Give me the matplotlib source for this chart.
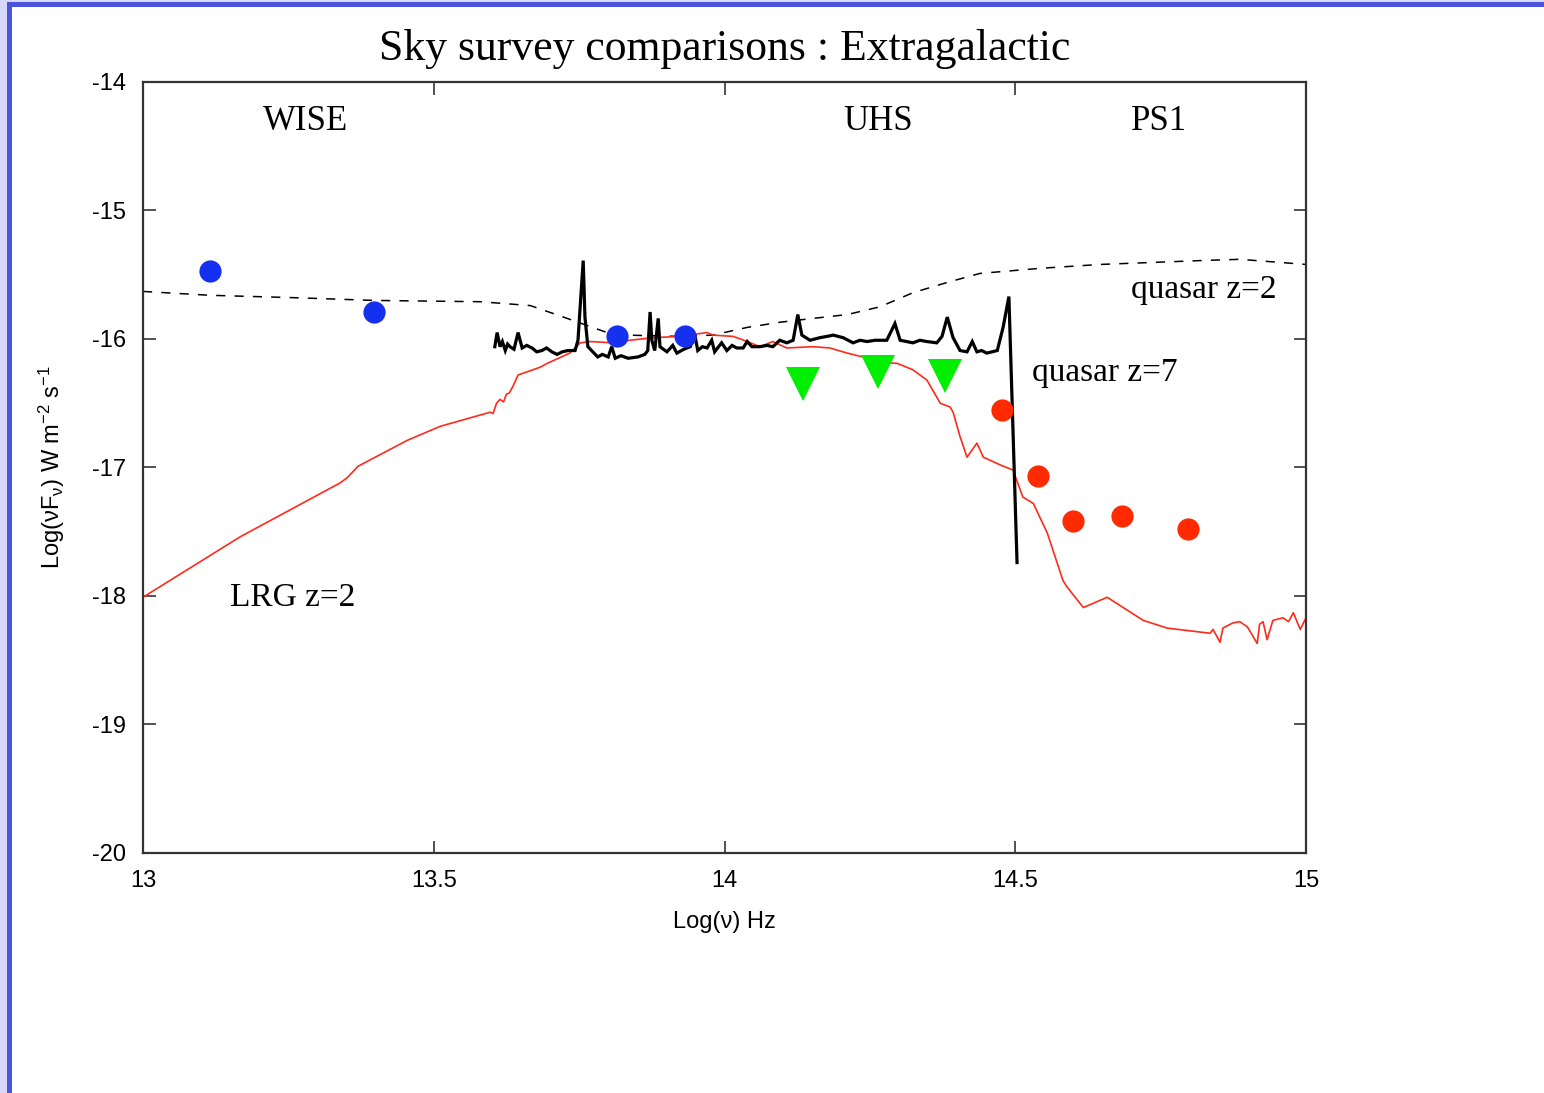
import matplotlib
matplotlib.use("Agg")
import matplotlib.pyplot as plt
from matplotlib.patches import Rectangle

plt.rcParams['font.family'] = ['Liberation Sans', 'DejaVu Sans']
plt.rcParams['mathtext.fontset'] = 'custom'
plt.rcParams['mathtext.rm'] = 'Liberation Sans'
plt.rcParams['mathtext.it'] = 'Liberation Sans:italic'
plt.rcParams['mathtext.default'] = 'regular'

# ---- photometric survey limits ----
wise_x = [13.115, 13.397, 13.815, 13.932]
wise_y = [-15.47, -15.79, -15.98, -15.98]

uhs_x = [14.135, 14.264, 14.379]
uhs_y = [-16.35, -16.26, -16.29]

ps1_x = [14.477, 14.539, 14.599, 14.684, 14.797]
ps1_y = [-16.55, -17.07, -17.42, -17.38, -17.48]

# ---- quasar z=2 template (dashed) ----
qso2_x = [13.000, 13.115, 13.270, 13.397, 13.580, 13.666, 13.717, 13.798,
          13.832, 13.923, 13.980, 14.039, 14.095, 14.152, 14.211, 14.267,
          14.324, 14.383, 14.439, 14.543, 14.646, 14.818, 14.886, 15.000]
qso2_y = [-15.63, -15.66, -15.68, -15.70, -15.71, -15.74, -15.82, -15.95,
          -15.97, -15.98, -15.97, -15.91, -15.87, -15.84, -15.81, -15.75,
          -15.64, -15.56, -15.49, -15.45, -15.42, -15.39, -15.38, -15.42]

# ---- quasar z=7 spectrum ----
qso7_x = [13.605, 13.609, 13.614, 13.618, 13.623, 13.627, 13.631, 13.638,
          13.645, 13.652, 13.660, 13.669, 13.677, 13.686, 13.694, 13.703,
          13.712, 13.721, 13.731, 13.743, 13.748, 13.757, 13.760, 13.765,
          13.782, 13.790, 13.800, 13.806, 13.812, 13.822, 13.834, 13.851,
          13.863, 13.868, 13.872, 13.875, 13.880, 13.886, 13.889, 13.901,
          13.911, 13.918, 13.930, 13.941, 13.949, 13.954, 13.962, 13.970,
          13.978, 13.983, 13.995, 14.004, 14.013, 14.021, 14.032, 14.039,
          14.047, 14.061, 14.073, 14.083, 14.095, 14.107, 14.118, 14.126,
          14.133, 14.147, 14.164, 14.176, 14.187, 14.204, 14.221, 14.233,
          14.245, 14.259, 14.279, 14.293, 14.302, 14.313, 14.324, 14.336,
          14.348, 14.365, 14.374, 14.383, 14.393, 14.405, 14.417, 14.426,
          14.434, 14.442, 14.451, 14.460, 14.469, 14.479, 14.489, 14.503]
qso7_y = [-16.06, -15.95, -16.06, -16.02, -16.09, -16.04, -16.06, -16.08,
          -15.95, -16.07, -16.05, -16.07, -16.10, -16.09, -16.07, -16.10,
          -16.12, -16.10, -16.09, -16.09, -16.01, -15.39, -15.83, -16.06,
          -16.14, -16.12, -16.14, -16.06, -16.15, -16.13, -16.15, -16.14,
          -16.12, -16.09, -15.79, -16.01, -16.09, -15.84, -16.06, -16.10,
          -16.05, -16.11, -16.08, -16.06, -15.97, -16.09, -16.06, -16.07,
          -16.01, -16.10, -16.03, -16.09, -16.05, -16.07, -16.07, -16.02,
          -16.06, -16.06, -16.05, -16.06, -16.01, -16.03, -16.01, -15.81,
          -15.97, -16.01, -15.99, -15.98, -15.97, -15.99, -16.03, -16.01,
          -16.02, -16.01, -16.01, -15.88, -16.01, -16.02, -16.03, -16.01,
          -16.02, -16.03, -15.98, -15.83, -15.99, -16.09, -16.10, -16.02,
          -16.10, -16.09, -16.11, -16.10, -16.09, -15.91, -15.67, -17.74]

# ---- LRG z=2 template ----
lrg_x = [13.000, 13.167, 13.339, 13.351, 13.370, 13.454, 13.511, 13.597,
         13.602, 13.608, 13.614, 13.620, 13.625, 13.630, 13.636, 13.645,
         13.683, 13.695, 13.734, 13.752, 13.769, 13.808, 13.837, 13.877,
         13.923, 13.970, 13.980, 14.015, 14.039, 14.061, 14.083, 14.107,
         14.152, 14.181, 14.211, 14.238, 14.267, 14.297, 14.324, 14.348,
         14.371, 14.388, 14.393, 14.405, 14.417, 14.434, 14.445, 14.474,
         14.496, 14.513, 14.531, 14.555, 14.582, 14.589, 14.617, 14.658,
         14.720, 14.761, 14.835, 14.840, 14.852, 14.857, 14.874, 14.886,
         14.899, 14.916, 14.920, 14.926, 14.933, 14.943, 14.960, 14.970,
         14.978, 14.990, 15.000]
lrg_y = [-18.01, -17.54, -17.12, -17.08, -16.99, -16.79, -16.68, -16.57,
         -16.58, -16.50, -16.47, -16.49, -16.43, -16.42, -16.37, -16.28,
         -16.22, -16.19, -16.11, -16.03, -16.02, -16.03, -16.01, -15.99,
         -15.98, -15.95, -15.97, -15.98, -16.02, -16.06, -16.02, -16.07,
         -16.06, -16.07, -16.11, -16.14, -16.18, -16.19, -16.24, -16.32,
         -16.50, -16.53, -16.57, -16.76, -16.92, -16.81, -16.92, -16.98,
         -17.02, -17.23, -17.28, -17.51, -17.88, -17.93, -18.09, -18.01,
         -18.19, -18.25, -18.29, -18.26, -18.36, -18.25, -18.21, -18.20,
         -18.24, -18.37, -18.22, -18.20, -18.34, -18.19, -18.17, -18.20,
         -18.13, -18.26, -18.17]

x_ticks = [13, 13.5, 14, 14.5, 15]
x_labels = ['13', '13.5', '14', '14.5', '15']
y_ticks = [-20, -19, -18, -17, -16, -15, -14]
y_labels = ['-20', '-19', '-18', '-17', '-16', '-15', '-14']

fig = plt.figure(figsize=(15.44, 10.93), dpi=100)
fig.patch.set_facecolor('white')

# page frame
fig.add_artist(Rectangle((0, 0), 0.0045, 1, transform=fig.transFigure,
                         facecolor='#d8d8fa', edgecolor='none'))
fig.add_artist(Rectangle((0, 0.9982), 1, 0.0018, transform=fig.transFigure,
                         facecolor='#d8d8fa', edgecolor='none'))
fig.add_artist(Rectangle((0.0045, 0), 0.0033, 0.9982, transform=fig.transFigure,
                         facecolor='#4b55dc', edgecolor='none'))
fig.add_artist(Rectangle((0.0045, 0.9936), 0.9955, 0.0046, transform=fig.transFigure,
                         facecolor='#4b55dc', edgecolor='none'))

ax = fig.add_axes([0.0926, 0.2196, 0.7533, 0.7054])
ax.set_xlim(13, 15)
ax.set_ylim(-20, -14)

serif = ['Liberation Serif', 'DejaVu Serif']

ax.plot(qso2_x, qso2_y, color='black', lw=1.1, linestyle=(0, (6, 6)))
ax.plot(lrg_x, lrg_y, color='#ff2a1a', lw=1.2)
ax.plot(qso7_x, qso7_y, color='black', lw=2.3, solid_joinstyle='miter')

ax.plot(wise_x, wise_y, 'o', color='#1530ee', markersize=16, markeredgewidth=0)
ax.plot(uhs_x, uhs_y, 'v', color='#00ee00', markersize=24, markeredgewidth=0)
ax.plot(ps1_x, ps1_y, 'o', color='#ff2a00', markersize=16, markeredgewidth=0)

ax.text(13.279, -14.31, 'WISE', family=serif, fontsize=25, ha='center', va='center')
ax.text(14.264, -14.31, 'UHS', family=serif, fontsize=25, ha='center', va='center')
ax.text(14.747, -14.31, 'PS1', family=serif, fontsize=25, ha='center', va='center')
ax.text(14.699, -15.62, 'quasar z=2', family=serif, fontsize=24, ha='left', va='center')
ax.text(14.529, -16.26, 'quasar z=7', family=serif, fontsize=24, ha='left', va='center')
ax.text(13.150, -18.01, 'LRG z=2', family=serif, fontsize=24, ha='left', va='center')

ax.set_title('Sky survey comparisons : Extragalactic', family=serif, fontsize=31.5, pad=16)

ax.set_xticks(x_ticks)
ax.set_xticklabels(x_labels)
ax.set_yticks(y_ticks)
ax.set_yticklabels(y_labels)
ax.tick_params(direction='in', length=9, width=1.3, color='#444444',
               top=True, right=True, labelsize=17, pad=12)
for s in ax.spines.values():
    s.set_linewidth(1.6)
    s.set_color('#333333')

ax.set_xlabel('Log(ν) Hz', fontsize=17, labelpad=14)
ax.set_ylabel('Log(νF$_{ν}$) W m$^{-2}$ s$^{-1}$', fontsize=17, labelpad=18)

fig.savefig('out.png', dpi=100)
